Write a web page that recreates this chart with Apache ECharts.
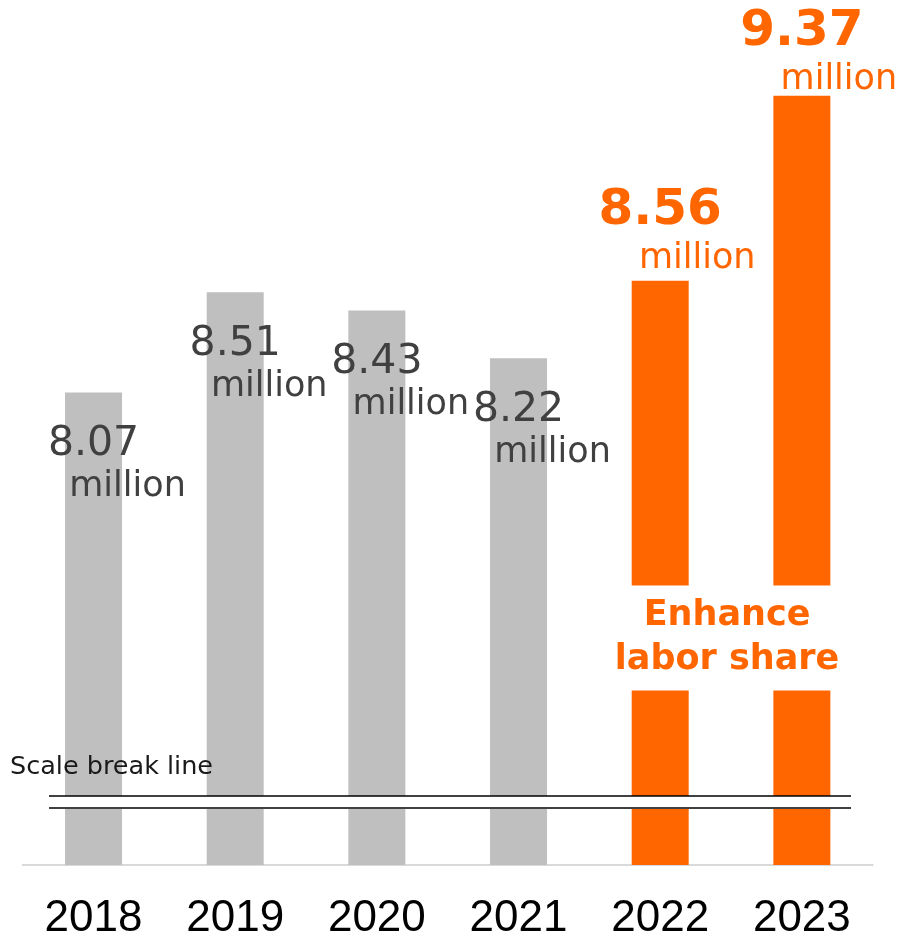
<!DOCTYPE html>
<html>
<head>
<meta charset="utf-8">
<script src="https://cdn.jsdelivr.net/npm/echarts@6/dist/echarts.min.js"></script>
<style>
  html, body { margin: 0; padding: 0; background: #fff; }
  #chart { width: 898px; height: 934px; }
</style>
</head>
<body>
<div id="chart"></div>
<script>
// Annual totals (millions), 2018–2023
const years = ['2018', '2019', '2020', '2021', '2022', '2023'];
const values = [8.07, 8.51, 8.43, 8.22, 8.56, 9.37];
const unitText = 'million';
const highlightYears = ['2022', '2023'];
const calloutLines = ['Enhance', 'labor share'];
const breakLabel = 'Scale break line';

const GREY = '#BFBFBF';
const ORANGE = '#FF6600';
const TEXT_GREY = '#404040';
const FONT = '"DejaVu Sans", Verdana, sans-serif';

const chart = echarts.init(document.getElementById('chart'), null, { renderer: 'canvas' });

function labelFor(year) {
  const hi = highlightYears.includes(year);
  if (hi) {
    return {
      show: true,
      position: 'top',
      distance: year === '2022' ? 2 : -4,
      formatter: p => `{v|${p.value.toFixed(2)}}\n{m|${unitText}}`,
      rich: {
        v: { fontFamily: FONT, fontSize: 50, fontWeight: 'bold', color: ORANGE, lineHeight: 55 },
        m: { fontFamily: FONT, fontSize: 35, color: ORANGE, lineHeight: 40, padding: [0, 0, 0, 74] }
      }
    };
  }
  return {
    show: true,
    position: 'insideTop',
    distance: 31,
    formatter: p => `{v|${p.value.toFixed(2)}}\n{m|${unitText}}`,
    rich: {
      v: { fontFamily: FONT, fontSize: 41, color: TEXT_GREY, lineHeight: 42 },
      m: { fontFamily: FONT, fontSize: 35, color: TEXT_GREY, lineHeight: 43, padding: [0, 0, 0, 68] }
    }
  };
}

chart.setOption({
  animation: false,
  backgroundColor: '#fff',
  grid: { left: 22.7, right: 25.3, top: 0, bottom: 69, outerBoundsMode: 'none', containLabel: false },
  xAxis: {
    type: 'category',
    data: years,
    axisLine: { lineStyle: { color: '#D9D9D9', width: 2 } },
    axisTick: { show: false },
    axisLabel: {
      color: '#000', fontFamily: '"Liberation Sans", Arial, sans-serif',
      fontSize: 44, margin: 32
    }
  },
  yAxis: {
    type: 'value', min: 6, max: 9.79, show: false,
    splitLine: { show: false }
  },
  series: [{
    type: 'bar',
    barWidth: 57,
    data: values.map((v, i) => ({
      value: v,
      itemStyle: { color: highlightYears.includes(years[i]) ? ORANGE : GREY },
      label: labelFor(years[i])
    }))
  }]
});

// Overlays: scale-break band and the callout that interrupts the highlighted bars
const xa = chart.convertToPixel({ xAxisIndex: 0 }, highlightYears[0]);
const xb = chart.convertToPixel({ xAxisIndex: 0 }, highlightYears[1]);
chart.setOption({
  graphic: [
    { type: 'rect', shape: { x: 49, y: 796, width: 802, height: 12 }, style: { fill: '#fff' }, z: 100 },
    { type: 'line', shape: { x1: 49, y1: 796, x2: 851, y2: 796 }, style: { stroke: '#000', lineWidth: 1.5 }, z: 101 },
    { type: 'line', shape: { x1: 49, y1: 808, x2: 851, y2: 808 }, style: { stroke: '#404040', lineWidth: 2 }, z: 101 },
    {
      type: 'text', left: 10, top: 754, z: 101,
      style: { text: breakLabel, fontFamily: FONT, fontSize: 25.5, fill: '#1a1a1a' }
    },
    {
      type: 'text', z: 102,
      x: (xa + xb) / 2 - 4, y: 638,
      style: {
        text: calloutLines.join('\n'),
        fontFamily: FONT, fontSize: 35, fontWeight: 'bold', fill: ORANGE,
        lineHeight: 44, align: 'center', verticalAlign: 'middle',
        backgroundColor: '#fff', padding: [7, 4, 10, 4]
      }
    }
  ]
});
</script>
</body>
</html>
